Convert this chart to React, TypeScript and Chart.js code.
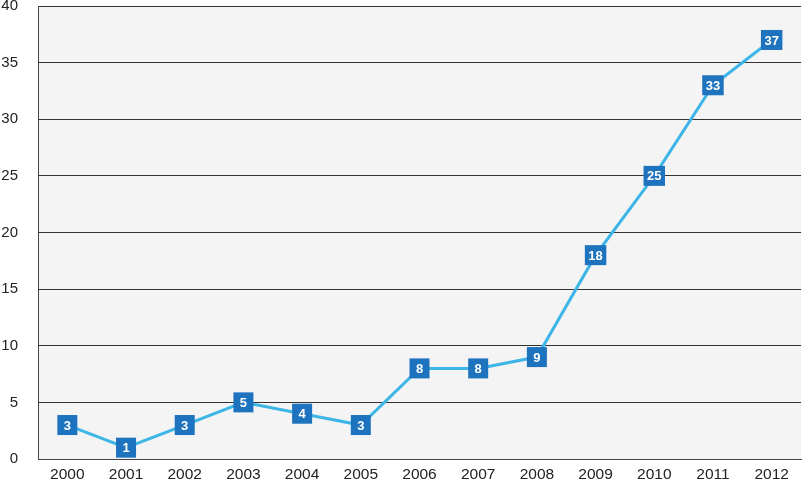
import React, { useEffect, useRef } from "react";
import { Chart, registerables } from "chart.js";

Chart.register(...registerables);

const years = ["2000", "2001", "2002", "2003", "2004", "2005", "2006", "2007", "2008", "2009", "2010", "2011", "2012"];
const counts = [3, 1, 3, 5, 4, 3, 8, 8, 9, 18, 25, 33, 37];

const bgPlugin = {
  id: "plotBg",
  beforeDraw(chart: any) {
    const { ctx, chartArea } = chart;
    ctx.save();
    ctx.fillStyle = "#f4f4f4";
    ctx.fillRect(chartArea.left, chartArea.top, chartArea.right - chartArea.left, chartArea.bottom - chartArea.top);
    ctx.restore();
  },
};

const labelPlugin = {
  id: "boxLabels",
  afterDatasetsDraw(chart: any) {
    const { ctx } = chart;
    const meta = chart.getDatasetMeta(0);
    const data = chart.data.datasets[0].data;
    ctx.save();
    ctx.font = "bold 13px 'Liberation Sans', Arial, sans-serif";
    ctx.textAlign = "center";
    ctx.textBaseline = "middle";
    meta.data.forEach((pt: any, i: number) => {
      const txt = String(data[i]);
      const w = Math.max(20, ctx.measureText(txt).width + 7);
      const h = 20;
      ctx.fillStyle = "#1e73be";
      ctx.fillRect(pt.x - w / 2, pt.y - h / 2, w, h);
      ctx.fillStyle = "#ffffff";
      ctx.fillText(txt, pt.x, pt.y + 1);
    });
    ctx.restore();
  },
};

export default function App() {
  const ref = useRef<HTMLCanvasElement>(null);
  useEffect(() => {
    document.body.style.margin = "0";
    const chart = new Chart(ref.current!, {
      type: "line",
      data: {
        labels: years,
        datasets: [
          {
            data: counts,
            borderColor: "#3db5e6",
            borderWidth: 3,
            pointRadius: 0,
            tension: 0,
          },
        ],
      },
      options: {
        animation: false,
        responsive: false,
        layout: { padding: { left: 0, right: 8, top: 0, bottom: 0 } },
        plugins: { legend: { display: false }, tooltip: { enabled: false } },
        scales: {
          x: {
            offset: true,
            grid: { display: false, drawTicks: false },
            border: { display: true, color: "#444", width: 1 },
            ticks: {
              color: "#222",
              font: { family: "'Liberation Sans', Arial, sans-serif", size: 15.5 },
              padding: 6,
              maxRotation: 0,
            },
            afterFit(scale: any) {
              scale.height = 25;
              scale.paddingLeft = 0;
              scale.paddingRight = 0;
            },
          },
          y: {
            min: 0,
            max: 40,
            grid: { color: "#333", lineWidth: 1, drawTicks: false },
            border: { display: true, color: "#444", width: 1 },
            ticks: {
              stepSize: 5,
              color: "#222",
              font: { family: "'Liberation Sans', Arial, sans-serif", size: 15 },
              padding: 20,
            },
            afterFit(scale: any) {
              scale.width = 38;
              scale.paddingTop = 6;
              scale.paddingBottom = 0;
            },
          },
        },
      },
      plugins: [bgPlugin, labelPlugin],
    });
    return () => chart.destroy();
  }, []);
  return (
    <div style={{ width: 809, height: 484 }}>
      <canvas ref={ref} width={809} height={484} style={{ width: 809, height: 484 }} />
    </div>
  );
}
